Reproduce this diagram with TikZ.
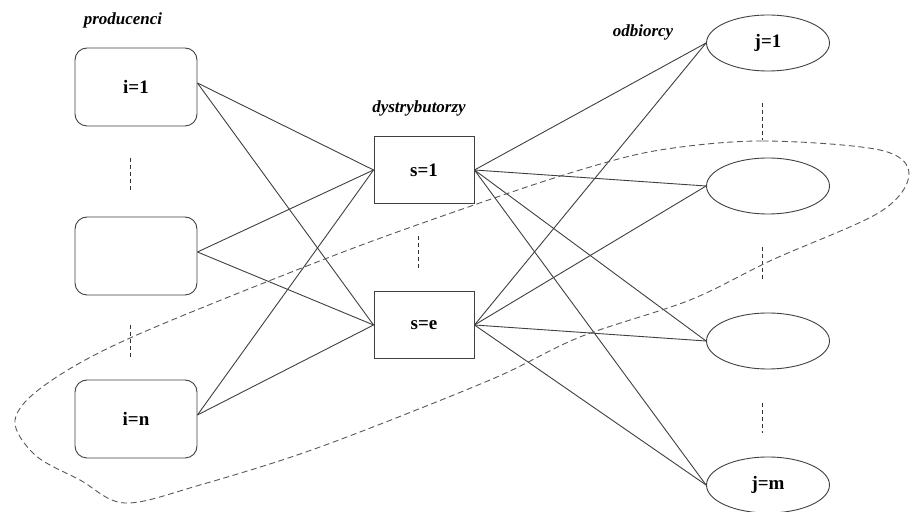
\documentclass[tikz,border=0pt]{standalone}
\usepackage{fontspec}
\setmainfont{Liberation Serif}
\usetikzlibrary{shapes.geometric}
\begin{document}
\begin{tikzpicture}[x=0.5pt,y=-0.5pt,
  ln/.style={draw=black!75,line width=0.45pt},
  prod/.style={ln,rounded corners=6pt,minimum width=61pt,minimum height=39pt,font=\fontsize{9.5}{11}\selectfont\bfseries},
  dist/.style={ln,minimum width=50pt,minimum height=33.5pt,font=\fontsize{9.5}{11}\selectfont\bfseries},
  cons/.style={ln,ellipse,minimum width=61.5pt,minimum height=28pt,inner sep=0pt,font=\fontsize{9.5}{11}\selectfont\bfseries},
  grp/.style={font=\fontsize{8.5}{10}\selectfont\bfseries\itshape},
  dots/.style={draw=black!80,line width=0.45pt,dash pattern=on 2pt off 1.5pt},
  loop/.style={draw=black!65,line width=0.45pt,dash pattern=on 3pt off 1.8pt}]
\useasboundingbox (0,0) rectangle (917,512);
\fill[white] (0,0) rectangle (917,512);
% group labels
\node[grp] (lp) at (123,20) {producenci};
\node[grp] (ld) at (419,108) {dystrybutorzy};
\node[grp] (lo) at (643,32) {odbiorcy};
% producers
\node[prod] (p1) at (136,87) {i=1};
\node[prod] (p2) at (136,256) {};
\node[prod] (pn) at (136,419) {i=n};
% distributors
\node[dist] (s1) at (424,170) {s=1};
\node[dist] (se) at (424,325) {s=e};
% consumers
\node[cons] (c1) at (768,43) {j=1};
\node[cons] (c2) at (768,186) {};
\node[cons] (c3) at (768,341) {};
\node[cons] (cm) at (768,485) {j=m};
% vertical dashed ellipsis marks
\coordinate (d1a) at (130,158); \coordinate (d1b) at (130,190);
\coordinate (d2a) at (130,325); \coordinate (d2b) at (130,359);
\coordinate (d3a) at (418,236); \coordinate (d3b) at (418,271);
\coordinate (d4a) at (762,103); \coordinate (d4b) at (762,140);
\coordinate (d5a) at (762,247); \coordinate (d5b) at (762,280);
\coordinate (d6a) at (762,403); \coordinate (d6b) at (762,433);
\foreach \a/\b in {d1a/d1b,d2a/d2b,d3a/d3b,d4a/d4b,d5a/d5b,d6a/d6b}
  \draw[dots] (\a) -- (\b);
% connectors producers -> distributors
\foreach \p in {p1,p2,pn}
  \foreach \s in {s1,se}
    \draw[ln] ([yshift=2pt]\p.east) -- (\s.west);
% connectors distributors -> consumers
\foreach \s in {s1,se}
  \foreach \c in {c1,c2,c3,cm}
    \draw[ln] (\s.east) -- (\c.west);
% dashed group loop
\draw[loop] plot[smooth cycle,tension=0.55] coordinates {
  (880,150) (762,141) (660,150) (580,170) (474,205) (330,257)
  (130,338) (45,385) (15,420) (35,455) (80,480) (125,503) (200,485)
  (320,447) (490,380) (580,337) (690,300) (772,260) (880,212) (909,174)};
\end{tikzpicture}
\end{document}
